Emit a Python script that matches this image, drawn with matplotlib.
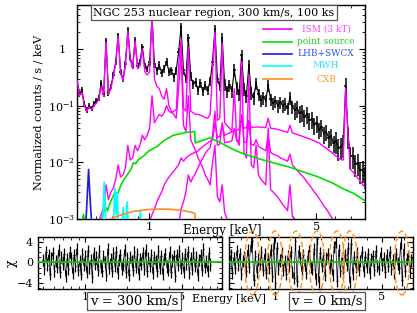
import numpy as np
import matplotlib
matplotlib.use("Agg")
import matplotlib.pyplot as plt
from matplotlib.patches import Ellipse
from matplotlib.lines import Line2D
from matplotlib.ticker import FixedLocator, NullFormatter, FixedFormatter, MultipleLocator

plt.rcParams['font.family'] = ['DejaVu Serif']
plt.rcParams['mathtext.fontset'] = 'dejavuserif'

# ---------------- data ----------------
E_MIN, E_MAX, N_CHAN = 0.5, 8.0, 120
channel_energy = np.geomspace(E_MIN, E_MAX, N_CHAN)

# observed spectrum (counts/s/keV) per channel
data_rate = [
    0.30, 0.16, 0.19, 0.11, 0.085, 0.10, 0.09, 0.11, 0.12, 0.14,
    0.25, 0.16, 1.40, 0.17, 0.22, 0.35, 0.60, 1.75, 0.40, 0.30,
    0.55, 2.20, 0.70, 0.50, 1.45, 0.50, 0.60, 1.10, 0.50, 0.45,
    0.60, 3.60, 0.55, 0.42, 0.52, 0.38, 0.45, 0.60, 0.40, 0.42,
    0.32, 0.42, 0.90, 2.45, 0.42, 0.30, 1.60, 0.33, 0.24, 0.26,
    0.19, 0.25, 0.18, 0.23, 0.19, 0.27, 0.60, 2.30, 0.30, 0.22,
    1.55, 0.24, 0.18, 0.23, 0.18, 0.43, 0.21, 0.16, 0.78, 0.20,
    0.15, 0.52, 0.17, 0.14, 0.25, 0.16, 0.125, 0.14, 0.125, 0.23,
    0.13, 0.11, 0.12, 0.10, 0.115, 0.10, 0.108, 0.09, 0.14, 0.097,
    0.083, 0.09, 0.074, 0.078, 0.064, 0.072, 0.055, 0.058, 0.046, 0.049,
    0.038, 0.042, 0.032, 0.035, 0.027, 0.029, 0.022, 0.024, 0.018, 0.019,
    0.021, 0.22, 0.03, 0.013, 0.013, 0.0095, 0.0098, 0.0072, 0.0074, 0.0058]
err_band_edges = [0.5, 1.0, 2.0, 4.0, 6.0, 8.1]
err_band_frac = [0.12, 0.17, 0.25, 0.33, 0.42]

# ISM thermal components (model, per channel, starting channel given)
ism_soft_first = 0
ism_soft = [
    0.28, 0.15, 0.17, 0.10, 0.08, 0.095, 0.085, 0.10, 0.11, 0.13,
    0.22, 0.15, 1.35, 0.16, 0.20, 0.32, 0.55, 1.70, 0.38, 0.28,
    0.50, 2.10, 0.65, 0.45, 1.40, 0.45, 0.50, 1.00, 0.40, 0.35,
    0.40, 3.70, 0.30, 0.22, 0.20, 0.15, 0.13, 0.20, 0.10, 0.08,
    0.07, 0.06, 0.20, 0.90, 0.045, 0.035, 0.15, 0.025, 0.02, 0.016,
    0.012, 0.01, 0.008, 0.006, 0.005, 0.004, 0.01, 0.02, 0.0025, 0.002,
    0.004, 0.0013, 0.001, 0.0008]
ism_med_first = 9
ism_med = [
    0.0009, 0.0012, 0.0016, 0.004, 0.0022, 0.003, 0.0035, 0.005, 0.009, 0.0055,
    0.006, 0.008, 0.02, 0.011, 0.012, 0.02, 0.016, 0.02, 0.03, 0.025,
    0.03, 0.04, 0.15, 0.05, 0.06, 0.07, 0.065, 0.075, 0.10, 0.08,
    0.075, 0.08, 0.085, 0.5, 1.5, 0.09, 0.08, 1.1, 0.08, 0.075,
    0.07, 0.07, 0.068, 0.065, 0.062, 0.06, 0.07, 0.4, 2.0, 0.055,
    0.06, 1.3, 0.05, 0.045, 0.04, 0.035, 0.2, 0.025, 0.02, 0.6,
    0.015, 0.012, 0.35, 0.009, 0.008, 0.02, 0.006, 0.005, 0.0045, 0.004,
    0.04, 0.0033, 0.003, 0.0027, 0.0024, 0.0021, 0.0018, 0.0016, 0.0014, 0.004,
    0.0011, 0.001, 0.0009]
ism_warm_first = 42
ism_warm = [
    0.0008, 0.0015, 0.002, 0.003, 0.006, 0.0045, 0.0055, 0.0065, 0.008, 0.01,
    0.012, 0.0145, 0.0165, 0.018, 0.03, 0.08, 0.02, 0.021, 0.05, 0.022,
    0.023, 0.023, 0.024, 0.04, 0.024, 0.024, 0.07, 0.023, 0.022, 0.05,
    0.021, 0.02, 0.025, 0.019, 0.018, 0.017, 0.016, 0.03, 0.015, 0.014,
    0.0135, 0.013, 0.012, 0.0115, 0.011, 0.0105, 0.014, 0.009, 0.008, 0.0072,
    0.0065, 0.0058, 0.0052, 0.0045, 0.004, 0.0035, 0.003, 0.0027, 0.0023, 0.002,
    0.0017, 0.0015, 0.0013, 0.0011, 0.00095]
ism_hot_first = 30
ism_hot = [
    0.0009, 0.0012, 0.0015, 0.002, 0.0025, 0.003, 0.004, 0.0047, 0.0055, 0.0062,
    0.007, 0.008, 0.009, 0.012, 0.0105, 0.0118, 0.013, 0.0138, 0.0145, 0.0152,
    0.016, 0.0175, 0.019, 0.0205, 0.022, 0.0235, 0.025, 0.05, 0.027, 0.029,
    0.045, 0.03, 0.0315, 0.033, 0.0345, 0.036, 0.037, 0.038, 0.06, 0.04,
    0.041, 0.055, 0.041, 0.042, 0.042, 0.042, 0.042, 0.0415, 0.041, 0.06,
    0.04, 0.0395, 0.039, 0.038, 0.037, 0.036, 0.035, 0.034, 0.045, 0.033,
    0.032, 0.031, 0.03, 0.029, 0.028, 0.027, 0.026, 0.025, 0.024, 0.023,
    0.022, 0.0205, 0.019, 0.0178, 0.0165, 0.0153, 0.014, 0.013, 0.012, 0.0112,
    0.011, 0.2, 0.03, 0.0075, 0.0068, 0.006, 0.0053, 0.0047, 0.0041, 0.0036]

# point source
ps_energy = [0.525, 0.532, 0.54, 0.63, 0.645, 0.66, 0.67, 0.69, 0.71, 0.72, 0.74, 0.76,
             0.78, 0.80, 0.82, 0.84, 0.86, 0.88, 0.90, 0.95, 1.0, 1.08, 1.15, 1.26,
             1.35, 1.45, 1.55, 1.56, 1.7, 1.8, 2.0, 2.24, 2.5, 3.0, 3.5, 3.85, 4.5,
             5.0, 5.8, 6.5, 7.2, 8.0]
ps_rate = [0.0009, 0.0012, 0.0009, 0.0009, 0.0013, 0.0016, 0.0014, 0.002, 0.0026, 0.003,
           0.0028, 0.0038, 0.0048, 0.0055, 0.0065, 0.0075, 0.0098, 0.0095, 0.011, 0.013,
           0.016, 0.019, 0.024, 0.03, 0.032, 0.034, 0.035, 0.022, 0.025, 0.027, 0.022,
           0.017, 0.014, 0.011, 0.0092, 0.0083, 0.0066, 0.0057, 0.0044, 0.0034, 0.0028,
           0.0021]
# LHB + SWCX
lhb_energy = [0.545, 0.553, 0.559, 0.565, 0.575]
lhb_rate = [0.0009, 0.003, 0.0075, 0.003, 0.0009]
# MWH
mwh_energy = [0.64, 0.65, 0.66, 0.71, 0.72, 0.728, 0.736, 0.745, 0.77, 0.78, 0.79,
              0.80, 0.81, 0.82, 0.91, 0.92, 0.93]
mwh_rate = [0.0008, 0.0045, 0.0008, 0.0008, 0.0035, 0.0012, 0.0029, 0.0008, 0.0008,
            0.0016, 0.0008, 0.0008, 0.002, 0.0008, 0.0008, 0.0014, 0.0008]
# CXB
cxb_energy = [0.68, 0.69, 0.75, 0.85, 1.0, 1.1, 1.25, 1.4, 1.52, 1.555, 1.56]
cxb_rate = [0.0008, 0.001, 0.00115, 0.00135, 0.00148, 0.0015, 0.00148, 0.0014,
            0.0013, 0.00125, 0.0008]

# residuals (chi)
N_RES = 120
chi_300 = [
    0.5, -1.2, 2.1, -0.4, 1.5, -2.3, 0.8, 1.9, -1.6, 0.3,
    -0.9, 2.4, -1.8, 1.1, -0.2, 1.7, -2.6, 0.6, -1.3, 2.0,
    0.9, -2.1, 1.4, -0.7, 2.7, -1.5, 0.2, -2.2, 1.6, -0.5,
    1.2, -1.9, 2.3, -1.0, 0.4, -2.8, 1.8, -0.3, 1.0, -1.4,
    2.2, -0.8, -1.7, 1.3, 0.1, -2.4, 2.6, -1.1, 0.7, -1.6,
    1.9, -0.6, 2.0, -2.0, 0.5, 1.5, -1.2, -0.4, 2.5, -1.8,
    0.8, -2.5, 1.1, 0.3, -1.5, 2.1, -0.9, 1.6, -2.2, 0.6,
    -0.2, 1.8, -1.3, 2.4, -1.7, 0.9, -0.6, 1.4, -2.1, 1.0,
    0.2, -1.6, 2.2, -1.0, 1.3, -2.3, 0.7, 1.7, -0.8, -1.4,
    2.0, -1.9, 0.4, 1.2, -2.6, 1.5, -0.5, 2.3, -1.1, 0.8,
    -1.8, 1.6, -0.3, 2.1, -2.0, 0.9, -1.2, 1.9, -0.7, 1.1,
    -2.4, 0.5, 1.4, -1.5, 2.6, -0.9, 0.3, -1.7, 1.8, -0.4]
chi_0 = [
    -0.6, 1.4, -2.0, 0.9, -1.1, 2.2, -0.4, 1.7, -2.3, 0.3,
    1.1, -1.6, 2.4, -0.8, 3.2, 4.3, -3.4, 1.2, -1.9, 0.6,
    -0.3, 2.0, -1.4, 1.6, -2.1, 0.7, -1.0, 2.5, -2.6, 3.8,
    -4.0, 2.9, -1.2, 0.4, 1.8, -1.5, 0.2, -2.2, 1.3, -0.7,
    2.1, -1.8, -3.0, 4.2, -3.6, 2.3, 0.9, -1.7, 1.5, -0.5,
    -2.0, 1.2, 2.2, -0.9, -1.3, 2.6, -3.2, 4.6, -3.8, 1.9,
    -0.6, 1.4, -2.4, 0.8, 1.7, -1.1, 0.5, -2.5, 3.0, 4.1,
    -3.7, 2.4, -1.6, 0.9, -1.9, 1.5, -0.4, 2.8, -3.9, 3.6,
    -2.2, 1.0, -0.8, 1.8, -1.4, 0.3, 2.0, -1.7, 1.1, -0.9,
    1.6, -2.1, 0.6, 1.3, -1.5, 2.2, -0.7, -1.2, 1.9, -0.4,
    0.8, -1.8, 1.4, -0.6, 2.1, -1.3, 0.5, -2.0, 1.7, -0.2,
    -1.1, 3.9, -3.5, 2.6, -1.6, 0.7, 1.2, -1.9, 0.4, 1.0]
line_resid_energy = [0.71, 1.0, 1.37, 1.88, 2.54, 3.09, 6.77]

legend_labels = ["ISM (3 kT)", "point source", "LHB+SWCX", "MWH", "CXB"]

# ---------------- style ----------------
C_ISM, T_ISM = '#ff00ff', '#ff44ff'
C_PS, T_PS = '#00e000', '#22cc22'
C_LHB, T_LHB = '#1a1ae6', '#3355ee'
C_MWH, T_MWH = '#00ffff', '#33ddff'
C_CXB, T_CXB = '#ff8c1a', '#ff9933'
C_ZERO = '#00cc00'

W, H = 417, 313
fig = plt.figure(figsize=(W / 100, H / 100), dpi=100)


def rect(x0, y0, x1, y1):
    return [x0 / W, 1 - y1 / H, (x1 - x0) / W, (y1 - y0) / H]


ax = fig.add_axes(rect(77, 5, 365, 219))
axl = fig.add_axes(rect(38, 237, 222, 289))
axr = fig.add_axes(rect(229, 237, 413, 289))

# ---- main panel ----
ratio = channel_energy[1] / channel_energy[0]
xlo = channel_energy * (1 - 1 / np.sqrt(ratio))
xhi = channel_energy * (np.sqrt(ratio) - 1)
rel = np.array(err_band_frac)[np.searchsorted(err_band_edges, channel_energy, side='right') - 1]
yd = np.array(data_rate)
ax.errorbar(channel_energy, yd, xerr=[xlo, xhi], yerr=yd * rel, fmt='none',
            ecolor='black', elinewidth=1.1, zorder=2)
ax.plot(channel_energy, yd, color='black', lw=0.8, zorder=2)

for first, comp in [(ism_soft_first, ism_soft), (ism_med_first, ism_med),
                    (ism_warm_first, ism_warm), (ism_hot_first, ism_hot)]:
    ax.plot(channel_energy[first:first + len(comp)], comp, color=C_ISM, lw=1.0, zorder=3)
ax.plot(ps_energy, ps_rate, color=C_PS, lw=1.2, zorder=4)
ax.plot(lhb_energy, lhb_rate, color=C_LHB, lw=1.2, zorder=4)
ax.plot(mwh_energy, mwh_rate, color=C_MWH, lw=1.2, zorder=4)
ax.plot(cxb_energy, cxb_rate, color=C_CXB, lw=1.2, zorder=4)

ax.set_xscale('log')
ax.set_yscale('log')
ax.set_xlim(E_MIN, E_MAX)
ax.set_ylim(1e-3, 6)
ax.xaxis.set_major_locator(FixedLocator([1, 5]))
ax.xaxis.set_major_formatter(FixedFormatter(['1', '5']))
ax.xaxis.set_minor_locator(FixedLocator([0.5, 0.6, 0.7, 0.8, 0.9, 2, 3, 4, 6, 7, 8]))
ax.xaxis.set_minor_formatter(NullFormatter())
ax.yaxis.set_major_locator(FixedLocator([1e-3, 1e-2, 1e-1, 1]))
ax.yaxis.set_major_formatter(FixedFormatter([r'10$^{-3}$', r'10$^{-2}$', r'10$^{-1}$', '1']))
ax.yaxis.set_minor_locator(FixedLocator([k * 10.0 ** p for p in range(-3, 1) for k in range(2, 10)]))
ax.yaxis.set_minor_formatter(NullFormatter())
ax.tick_params(which='both', direction='in', top=True, right=True, labelsize=8)
ax.tick_params(which='major', length=4, width=0.8)
ax.tick_params(which='minor', length=2, width=0.6)
ax.tick_params(axis='y', pad=11)
ax.tick_params(axis='x', pad=2)
for t in ax.yaxis.get_major_ticks():
    t.label1.set_horizontalalignment('center')
for s in ax.spines.values():
    s.set_linewidth(1.0)
ax.set_xlabel('Energy [keV]', fontsize=8.5)
ax.xaxis.set_label_coords(0.503, -0.025)
ax.set_ylabel('Normalized counts / s / keV', fontsize=8)
ax.yaxis.set_label_coords(-0.115, 0.5)

# legend (manual)
leg_colors = [C_ISM, C_PS, C_LHB, C_MWH, C_CXB]
leg_tcolors = [T_ISM, T_PS, T_LHB, T_MWH, T_CXB]
leg_rows_px = [29, 42, 54, 66, 79]
for lab, c, tc, ypx in zip(legend_labels, leg_colors, leg_tcolors, leg_rows_px):
    yf = (219 - ypx) / 214
    ax.add_line(Line2D([(263 - 77) / 288, (292 - 77) / 288], [yf, yf], color=c, lw=1.2,
                       transform=ax.transAxes))
    ax.text((326 - 77) / 288, yf, lab, color=tc, fontsize=6.5, ha='center', va='center',
            transform=ax.transAxes)

fig.text(214 / W, 1 - 12.5 / H, 'NGC 253 nuclear region, 300 km/s, 100 ks', fontsize=8,
         ha='center', va='center',
         bbox=dict(boxstyle='square,pad=0.25', fc='white', ec='#555555', lw=0.9))

# ---- residual panels ----
res_energy = np.geomspace(E_MIN, E_MAX, N_RES)
rr = res_energy[1] / res_energy[0]
rxlo = res_energy * (1 - 1 / np.sqrt(rr))
rxhi = res_energy * (np.sqrt(rr) - 1)
for a, chi, xl in [(axl, chi_300, (0.46, 9.7)), (axr, chi_0, (E_MIN, E_MAX))]:
    a.errorbar(res_energy, chi, xerr=[rxlo, rxhi], yerr=1.2, fmt='none', ecolor='black',
               elinewidth=0.9, zorder=2)
    a.plot(res_energy, chi, color='black', lw=0.5, zorder=2)
    a.axhline(0, color=C_ZERO, lw=1.3, zorder=3)
    a.set_xscale('log')
    a.set_xlim(*xl)
    a.set_ylim(-5.2, 5)
    a.xaxis.set_major_locator(FixedLocator([1, 5]))
    a.xaxis.set_major_formatter(FixedFormatter(['1', '5']))
    a.xaxis.set_minor_locator(FixedLocator([0.5, 0.6, 0.7, 0.8, 0.9, 2, 3, 4, 6, 7, 8, 9]))
    a.xaxis.set_minor_formatter(NullFormatter())
    a.yaxis.set_major_locator(FixedLocator([-4, 0, 4]))
    a.yaxis.set_minor_locator(MultipleLocator(1))
    a.tick_params(which='both', direction='in', top=True, right=True, labelsize=8)
    a.tick_params(which='major', length=3.5, width=0.8)
    a.tick_params(which='minor', length=2, width=0.6)
    a.tick_params(axis='x', pad=2)
    for s in a.spines.values():
        s.set_linewidth(1.0)
axl.set_ylabel('χ', fontsize=9)
axl.yaxis.set_label_coords(-0.11, 0.5)
axr.tick_params(axis='y', labelleft=False)

# orange dashed ellipses marking line residuals
for e in line_resid_energy:
    xa = axr.transAxes.inverted().transform(axr.transData.transform((e, 0)))[0]
    axr.add_patch(Ellipse((xa, 0.5), 15 / 184, 64 / 52, transform=axr.transAxes,
                          fill=False, ec=C_CXB, lw=1.0, ls=(0, (4, 2)), clip_on=False,
                          zorder=5))

box = dict(boxstyle='square,pad=0.2', fc='white', ec='#555555', lw=0.9)
fig.text(134 / W, 1 - 301 / H, 'v = 300 km/s', fontsize=9.5, ha='center', va='center', bbox=box)
fig.text(327 / W, 1 - 301 / H, 'v = 0 km/s', fontsize=9.5, ha='center', va='center', bbox=box)
fig.text(229 / W, 1 - 299 / H, 'Energy [keV]', fontsize=8, ha='center', va='center')

fig.savefig('out.png', dpi=100)
